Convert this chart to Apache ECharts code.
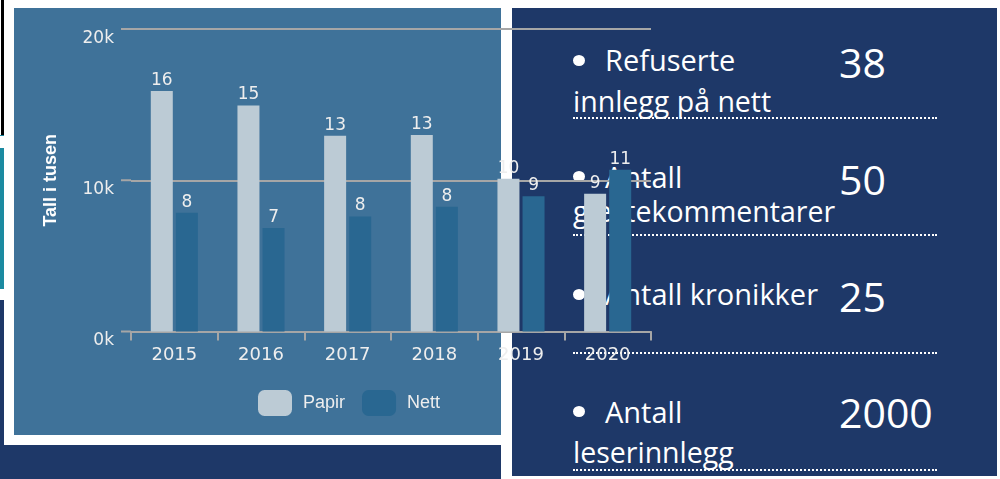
<!DOCTYPE html>
<html>
<head>
<meta charset="utf-8">
<script src="https://cdn.jsdelivr.net/npm/echarts@6/dist/echarts.min.js"></script>
<style>
  html, body { margin: 0; padding: 0; background: #fff; }
  #stage { position: relative; width: 1000px; height: 479px; overflow: hidden; }
  .blk { position: absolute; }
  .txt { position: absolute; color: #fff; font-family: "Open Sans", sans-serif; line-height: 1; white-space: nowrap; }
  .dot { position: absolute; width: 12px; height: 11px; border-radius: 50%; background: #fff; }
  .rule { position: absolute; height: 0; border-top: 2px dotted #fff; }
  #chart { position: absolute; left: 0; top: 0; width: 1000px; height: 479px; }
</style>
</head>
<body>
<div id="stage">
  <div class="blk" style="left:1px;top:0;width:3px;height:135px;background:#000"></div>
  <div class="blk" style="left:0;top:135px;width:4px;height:1px;background:#1b8aa1"></div>
  <div class="blk" style="left:0;top:148px;width:4px;height:141px;background:#1b8aa1"></div>
  <div class="blk" style="left:0;top:300px;width:4px;height:179px;background:#1e3868"></div>
  <div class="blk" style="left:14px;top:8px;width:487px;height:427px;background:#3f7299"></div>
  <div class="blk" style="left:0;top:445px;width:501px;height:34px;background:#1e3868"></div>
  <div class="blk" style="left:512px;top:8px;width:485px;height:468px;background:#1e3868"></div>
  <div id="stats"></div>
  <div id="chart"></div>
</div>
<script>
// chart data
const years = ['2015', '2016', '2017', '2018', '2019', '2020'];
const papir = [15900, 14950, 12950, 13000, 10100, 9100];
const nett = [7850, 6850, 7600, 8250, 8950, 10700];
const yTicks = [0, 10000, 20000];

// side panel figures
const statFirst = ['Refuserte', 'Antall', 'Antall kronikker', 'Antall'];
const statSecond = ['innlegg på nett', 'gjestekommentarer', '', 'leserinnlegg'];
const statValues = ['38', '50', '25', '2000'];

// baselines per row: first line, second line, number, dotted rule, bullet centre
const rows = [
  { b1: 71, b2: 112, bn: 78, rule: 117, bullet: 60 },
  { b1: 188, b2: 222, bn: 195, rule: 234, bullet: 176 },
  { b1: 305, b2: 0, bn: 312, rule: 352, bullet: 294 },
  { b1: 423, b2: 463, bn: 428, rule: 469, bullet: 411 }
];

const stats = document.getElementById('stats');
function addText(text, x, baseline, size) {
  const el = document.createElement('div');
  el.className = 'txt';
  el.textContent = text;
  el.style.fontSize = size + 'px';
  el.style.left = x + 'px';
  el.style.top = (baseline - 0.888 * size) + 'px';
  stats.appendChild(el);
}
statFirst.forEach((label, i) => {
  const r = rows[i];
  const dot = document.createElement('div');
  dot.className = 'dot';
  dot.style.left = '573px';
  dot.style.top = (r.bullet - 5.5) + 'px';
  stats.appendChild(dot);
  addText(label, 605, r.b1, 29);
  if (statSecond[i]) addText(statSecond[i], 573, r.b2, 28.5);
  addText(statValues[i], 839, r.bn, 41);
  const rule = document.createElement('div');
  rule.className = 'rule';
  rule.style.left = '573px';
  rule.style.width = '364px';
  rule.style.top = r.rule + 'px';
  stats.appendChild(rule);
});

const GRID_LEFT = 131;
const GRID_COLOR = '#a6a6a6';
const chart = echarts.init(document.getElementById('chart'), null, { renderer: 'canvas' });

const labelStyle = {
  show: true,
  position: 'top',
  distance: 2,
  color: '#eeeeee',
  fontFamily: 'DejaVu Sans',
  fontSize: 17,
  formatter: p => Math.round(p.value / 1000)
};

chart.setOption({
  backgroundColor: 'transparent',
  animation: false,
  grid: { left: GRID_LEFT, right: 349, top: 29, bottom: 147.5 },
  legend: {
    left: 258,
    top: 390,
    padding: 0,
    itemWidth: 34,
    itemHeight: 26,
    itemGap: 17,
    icon: 'roundRect',
    textStyle: {
      color: '#eeeeee',
      fontFamily: 'Liberation Sans',
      fontSize: 18,
      padding: [2, 0, 0, 6]
    },
    data: ['Papir', 'Nett']
  },
  xAxis: {
    type: 'category',
    data: years,
    axisLine: { lineStyle: { color: GRID_COLOR, width: 2 } },
    axisTick: { show: true, length: 9, lineStyle: { color: GRID_COLOR, width: 2 } },
    axisLabel: {
      color: '#eeeeee',
      fontFamily: 'DejaVu Sans',
      fontSize: 18,
      margin: 15
    }
  },
  yAxis: {
    type: 'value',
    min: 0,
    max: 20000,
    interval: 10000,
    name: 'Tall i tusen',
    nameLocation: 'middle',
    nameGap: 71,
    nameTextStyle: {
      color: '#ffffff',
      fontFamily: 'Liberation Sans',
      fontWeight: 'bold',
      fontSize: 18
    },
    axisLine: { show: false },
    axisTick: { show: false },
    splitLine: { lineStyle: { color: GRID_COLOR, width: 2 } },
    axisLabel: {
      color: '#eeeeee',
      fontFamily: 'DejaVu Sans',
      fontSize: 17,
      margin: 17,
      verticalAlign: 'top',
      padding: [1, 0, 0, 0],
      formatter: v => (v / 1000) + 'k'
    }
  },
  series: [
    {
      name: 'Papir',
      type: 'bar',
      data: papir,
      barWidth: 22,
      barGap: '14%',
      itemStyle: { color: '#bccbd5' },
      label: labelStyle
    },
    {
      name: 'Nett',
      type: 'bar',
      data: nett,
      barWidth: 22,
      itemStyle: { color: '#296791' },
      label: labelStyle
    }
  ]
});

// gridlines run a little past the first category boundary
chart.setOption({
  graphic: yTicks.map(v => {
    const y = chart.convertToPixel({ yAxisIndex: 0 }, v);
    return {
      type: 'line',
      shape: { x1: GRID_LEFT - 10, y1: y, x2: GRID_LEFT, y2: y },
      style: { stroke: GRID_COLOR, lineWidth: 2 }
    };
  })
});
</script>
</body>
</html>
